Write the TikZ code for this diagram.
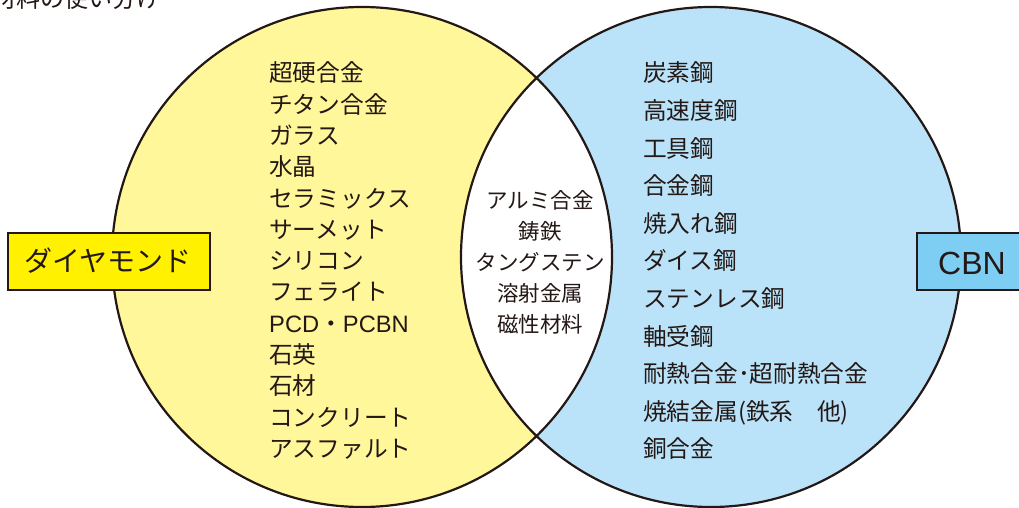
\documentclass[tikz,border=0pt]{standalone}
\usepackage{fontspec}
\setmainfont{Noto Sans CJK JP}
\newfontfamily\latfont{Liberation Sans}
\definecolor{ink}{HTML}{231815}
\definecolor{yfill}{HTML}{FFF799}
\definecolor{bfill}{HTML}{BAE3F9}
\definecolor{ybox}{HTML}{FFF100}
\definecolor{bbox}{HTML}{7ECEF4}
\tikzset{
  item/.style={anchor=west, inner sep=0pt, text height=0.88em, text depth=0.12em, text=ink, font=\fontsize{23.7}{23.7}\selectfont},
  mid/.style={anchor=center, inner sep=0pt, text height=0.88em, text depth=0.12em, text=ink, font=\fontsize{21.5}{21.5}\selectfont},
  ring/.style={draw=ink, line width=2.2pt},
  labelbox/.style={draw=ink, line width=2.4pt, text=ink}
}
\begin{document}
\begin{tikzpicture}[x=1pt,y=-1pt]
\useasboundingbox (0,0) rectangle (1019,508);
% title (mostly cut off)
\node[anchor=base west, inner sep=0pt, text=ink, font=\fontsize{24}{24}\selectfont] (title) at (-8,8) {材料の使い分け};
% circles
\fill[yfill] (362,257) circle (250pt);
\fill[bfill] (711,257) circle (250pt);
\begin{scope}
  \clip (362,257) circle (250pt);
  \fill[white] (711,257) circle (250pt);
\end{scope}
\draw[ring] (362,257) circle (250pt);
\draw[ring] (711,257) circle (250pt);
% label boxes
\fill[ybox] (8,233) rectangle (210,290);
\draw[labelbox] (8,233) rectangle (210,290);
\node[text=ink, inner sep=0pt, text height=0.88em, text depth=0.12em, font=\fontsize{28}{28}\selectfont] (dia) at (108,268) {ダイヤモンド};
\fill[bbox] (917,233) rectangle (1030,290);
\draw[labelbox] (917,233) rectangle (1030,290);
\node[text=ink, inner sep=0pt, font=\latfont\fontsize{32}{32}\selectfont] (cbn) at (972,263) {CBN};
% left list
\node[item] (l1) at (269,78) {超硬合金};
\node[item] (l2) at (269,109.3) {チタン合金};
\node[item] (l3) at (269,140.6) {ガラス};
\node[item] (l4) at (269,171.9) {水晶};
\node[item] (l5) at (269,203.2) {セラミックス};
\node[item] (l6) at (269,234.5) {サーメット};
\node[item] (l7) at (269,265.8) {シリコン};
\node[item] (l8) at (269,297.1) {フェライト};
\node[item] (l9) at (269,328.4) {{\latfont PCD}・{\latfont PCBN}};
\node[item] (l10) at (269,359.7) {石英};
\node[item] (l11) at (269,391) {石材};
\node[item] (l12) at (269,422.3) {コンクリート};
\node[item] (l13) at (269,453.6) {アスファルト};
% middle list
\node[mid] (m1) at (540,204.5) {アルミ合金};
\node[mid] (m2) at (540,235.5) {鋳鉄};
\node[mid] (m3) at (540,266.5) {タングステン};
\node[mid] (m4) at (540,297.5) {溶射金属};
\node[mid] (m5) at (540,328.5) {磁性材料};
% right list
\node[item] (r1) at (643,78) {炭素鋼};
\node[item] (r2) at (643,115.6) {高速度鋼};
\node[item] (r3) at (643,153.2) {工具鋼};
\node[item] (r4) at (643,190.8) {合金鋼};
\node[item] (r5) at (643,228.4) {焼入れ鋼};
\node[item] (r6) at (643,266) {ダイス鋼};
\node[item] (r7) at (643,303.6) {ステンレス鋼};
\node[item] (r8) at (643,341.2) {軸受鋼};
\node[item] (r9) at (643,378.8) {耐熱合金･超耐熱合金};
\node[item] (r10) at (643,416.4) {焼結金属(鉄系　他)};
\node[item] (r11) at (643,454) {銅合金};
\end{tikzpicture}
\end{document}
